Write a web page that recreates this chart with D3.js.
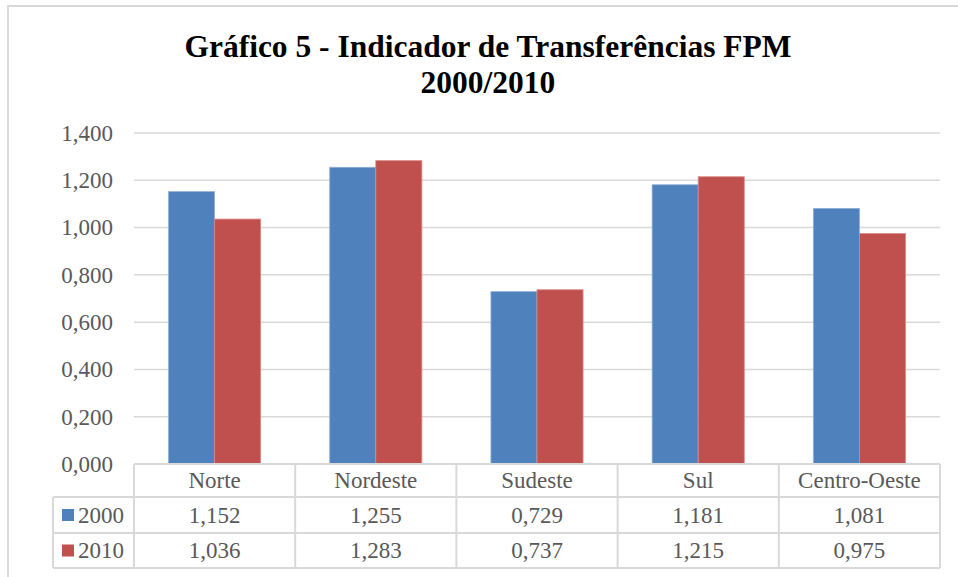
<!DOCTYPE html>
<html>
<head>
<meta charset="utf-8">
<script src="https://cdn.jsdelivr.net/npm/d3@7"></script>
<style>
  body { margin: 0; background: #fff; }
  svg { display: block; }
</style>
</head>
<body>
<div id="chart"></div>
<script>
const categories = ["Norte", "Nordeste", "Sudeste", "Sul", "Centro-Oeste"];
const seriesNames = ["2000", "2010"];
const values2000 = [1.152, 1.255, 0.729, 1.181, 1.081];
const values2010 = [1.036, 1.283, 0.737, 1.215, 0.975];
const yTicks = [0, 0.2, 0.4, 0.6, 0.8, 1.0, 1.2, 1.4];
const titleLines = ["Gráfico 5 - Indicador de Transferências FPM", "2000/2010"];

const seriesValues = [values2000, values2010];
const colors = ["#4f81bd", "#c0504d"];
const strokes = ["#8fb0d8", "#d98a88"];

const width = 958, height = 577;
const plot = {left: 134, right: 940, top: 133, bottom: 464};
const rowH = [33, 36, 35];
const legendLeft = 53;
const gridColor = "#d9d9d9";
const textColor = "#595959";
const FONT = '"Liberation Serif"';

// pt-BR style decimal comma
const fmt = v => d3.format(".3f")(v).replace(".", ",");

const svg = d3.select("#chart").append("svg")
    .attr("width", width)
    .attr("height", height);

// outer chart frame (cut off at right and bottom)
svg.append("path")
    .attr("d", `M8,${height} L8,6 L${width},6`)
    .attr("fill", "none")
    .attr("stroke", gridColor)
    .attr("stroke-width", 2);

svg.append("text")
    .attr("text-anchor", "middle")
    .style("font-family", FONT)
    .style("font-weight", "bold")
    .style("font-size", "31.5px")
    .style("fill", "#000")
    .selectAll("tspan")
    .data(titleLines)
    .join("tspan")
    .attr("x", 488)
    .attr("y", (d, i) => i === 0 ? 57 : 93)
    .text(d => d);

const x0 = d3.scaleBand()
    .domain(categories)
    .range([plot.left, plot.right]);

const x1 = d3.scaleBand()
    .domain(seriesNames)
    .range([0, x0.bandwidth()])
    .paddingOuter(0.75);

const y = d3.scaleLinear()
    .domain([0, 1.4])
    .range([plot.bottom, plot.top]);

// gridlines
svg.append("g")
    .selectAll("line")
    .data(yTicks)
    .join("line")
    .attr("x1", plot.left)
    .attr("x2", plot.right)
    .attr("y1", d => y(d))
    .attr("y2", d => y(d))
    .attr("stroke", gridColor)
    .attr("stroke-width", 1.5);

// y axis labels
const yAxis = svg.append("g")
    .attr("transform", `translate(${plot.left - 21},0)`)
    .call(d3.axisLeft(y).tickValues(yTicks).tickFormat(fmt).tickSize(0).tickPadding(0));
yAxis.select(".domain").remove();
yAxis.selectAll("text")
    .style("font-family", FONT)
    .style("font-size", "23px")
    .style("fill", textColor);

// bars
const groups = svg.append("g")
    .selectAll("g")
    .data(categories)
    .join("g")
    .attr("transform", d => `translate(${x0(d)},0)`);

groups.selectAll("rect")
    .data((c, ci) => seriesNames.map((s, si) => ({s, si, v: seriesValues[si][ci]})))
    .join("rect")
    .attr("x", d => x1(d.s))
    .attr("width", x1.bandwidth())
    .attr("y", d => y(d.v))
    .attr("height", d => y(0) - y(d.v))
    .attr("fill", d => colors[d.si])
    .attr("stroke", d => strokes[d.si])
    .attr("stroke-width", 0.8);

// data table
const table = svg.append("g");
const rowTop = [plot.bottom, plot.bottom + rowH[0], plot.bottom + rowH[0] + rowH[1]];
const tableBottom = rowTop[2] + rowH[2];

const hLines = [
    {x1: plot.left, y: rowTop[0]},
    {x1: legendLeft, y: rowTop[1]},
    {x1: legendLeft, y: rowTop[2]},
    {x1: legendLeft, y: tableBottom}
];
table.selectAll(".hline")
    .data(hLines)
    .join("line")
    .attr("class", "hline")
    .attr("x1", d => d.x1)
    .attr("x2", plot.right)
    .attr("y1", d => d.y)
    .attr("y2", d => d.y)
    .attr("stroke", gridColor)
    .attr("stroke-width", 2);

const vLines = categories.map(c => x0(c)).concat([plot.right]);
table.selectAll(".vline")
    .data(vLines)
    .join("line")
    .attr("class", "vline")
    .attr("x1", d => d)
    .attr("x2", d => d)
    .attr("y1", rowTop[0])
    .attr("y2", tableBottom)
    .attr("stroke", gridColor)
    .attr("stroke-width", 2);

table.append("line")
    .attr("x1", legendLeft)
    .attr("x2", legendLeft)
    .attr("y1", rowTop[1])
    .attr("y2", tableBottom)
    .attr("stroke", gridColor)
    .attr("stroke-width", 2);

const cellText = sel => sel
    .attr("dominant-baseline", "central")
    .style("font-family", FONT)
    .style("font-size", "23px")
    .style("fill", textColor);

table.selectAll(".cat")
    .data(categories)
    .join("text")
    .attr("class", "cat")
    .attr("text-anchor", "middle")
    .attr("x", d => x0(d) + x0.bandwidth() / 2)
    .attr("y", rowTop[0] + rowH[0] / 2)
    .text(d => d)
    .call(cellText);

seriesNames.forEach((s, si) => {
    const cy = rowTop[si + 1] + rowH[si + 1] / 2;
    table.append("rect")
        .attr("x", 62)
        .attr("y", cy - 6)
        .attr("width", 12)
        .attr("height", 12)
        .attr("fill", colors[si]);
    table.append("text")
        .attr("x", 78)
        .attr("y", cy)
        .text(s)
        .call(cellText);
    table.selectAll(".val" + si)
        .data(categories)
        .join("text")
        .attr("class", "val" + si)
        .attr("text-anchor", "middle")
        .attr("x", d => x0(d) + x0.bandwidth() / 2)
        .attr("y", cy)
        .text((d, ci) => fmt(seriesValues[si][ci]))
        .call(cellText);
});
</script>
</body>
</html>
